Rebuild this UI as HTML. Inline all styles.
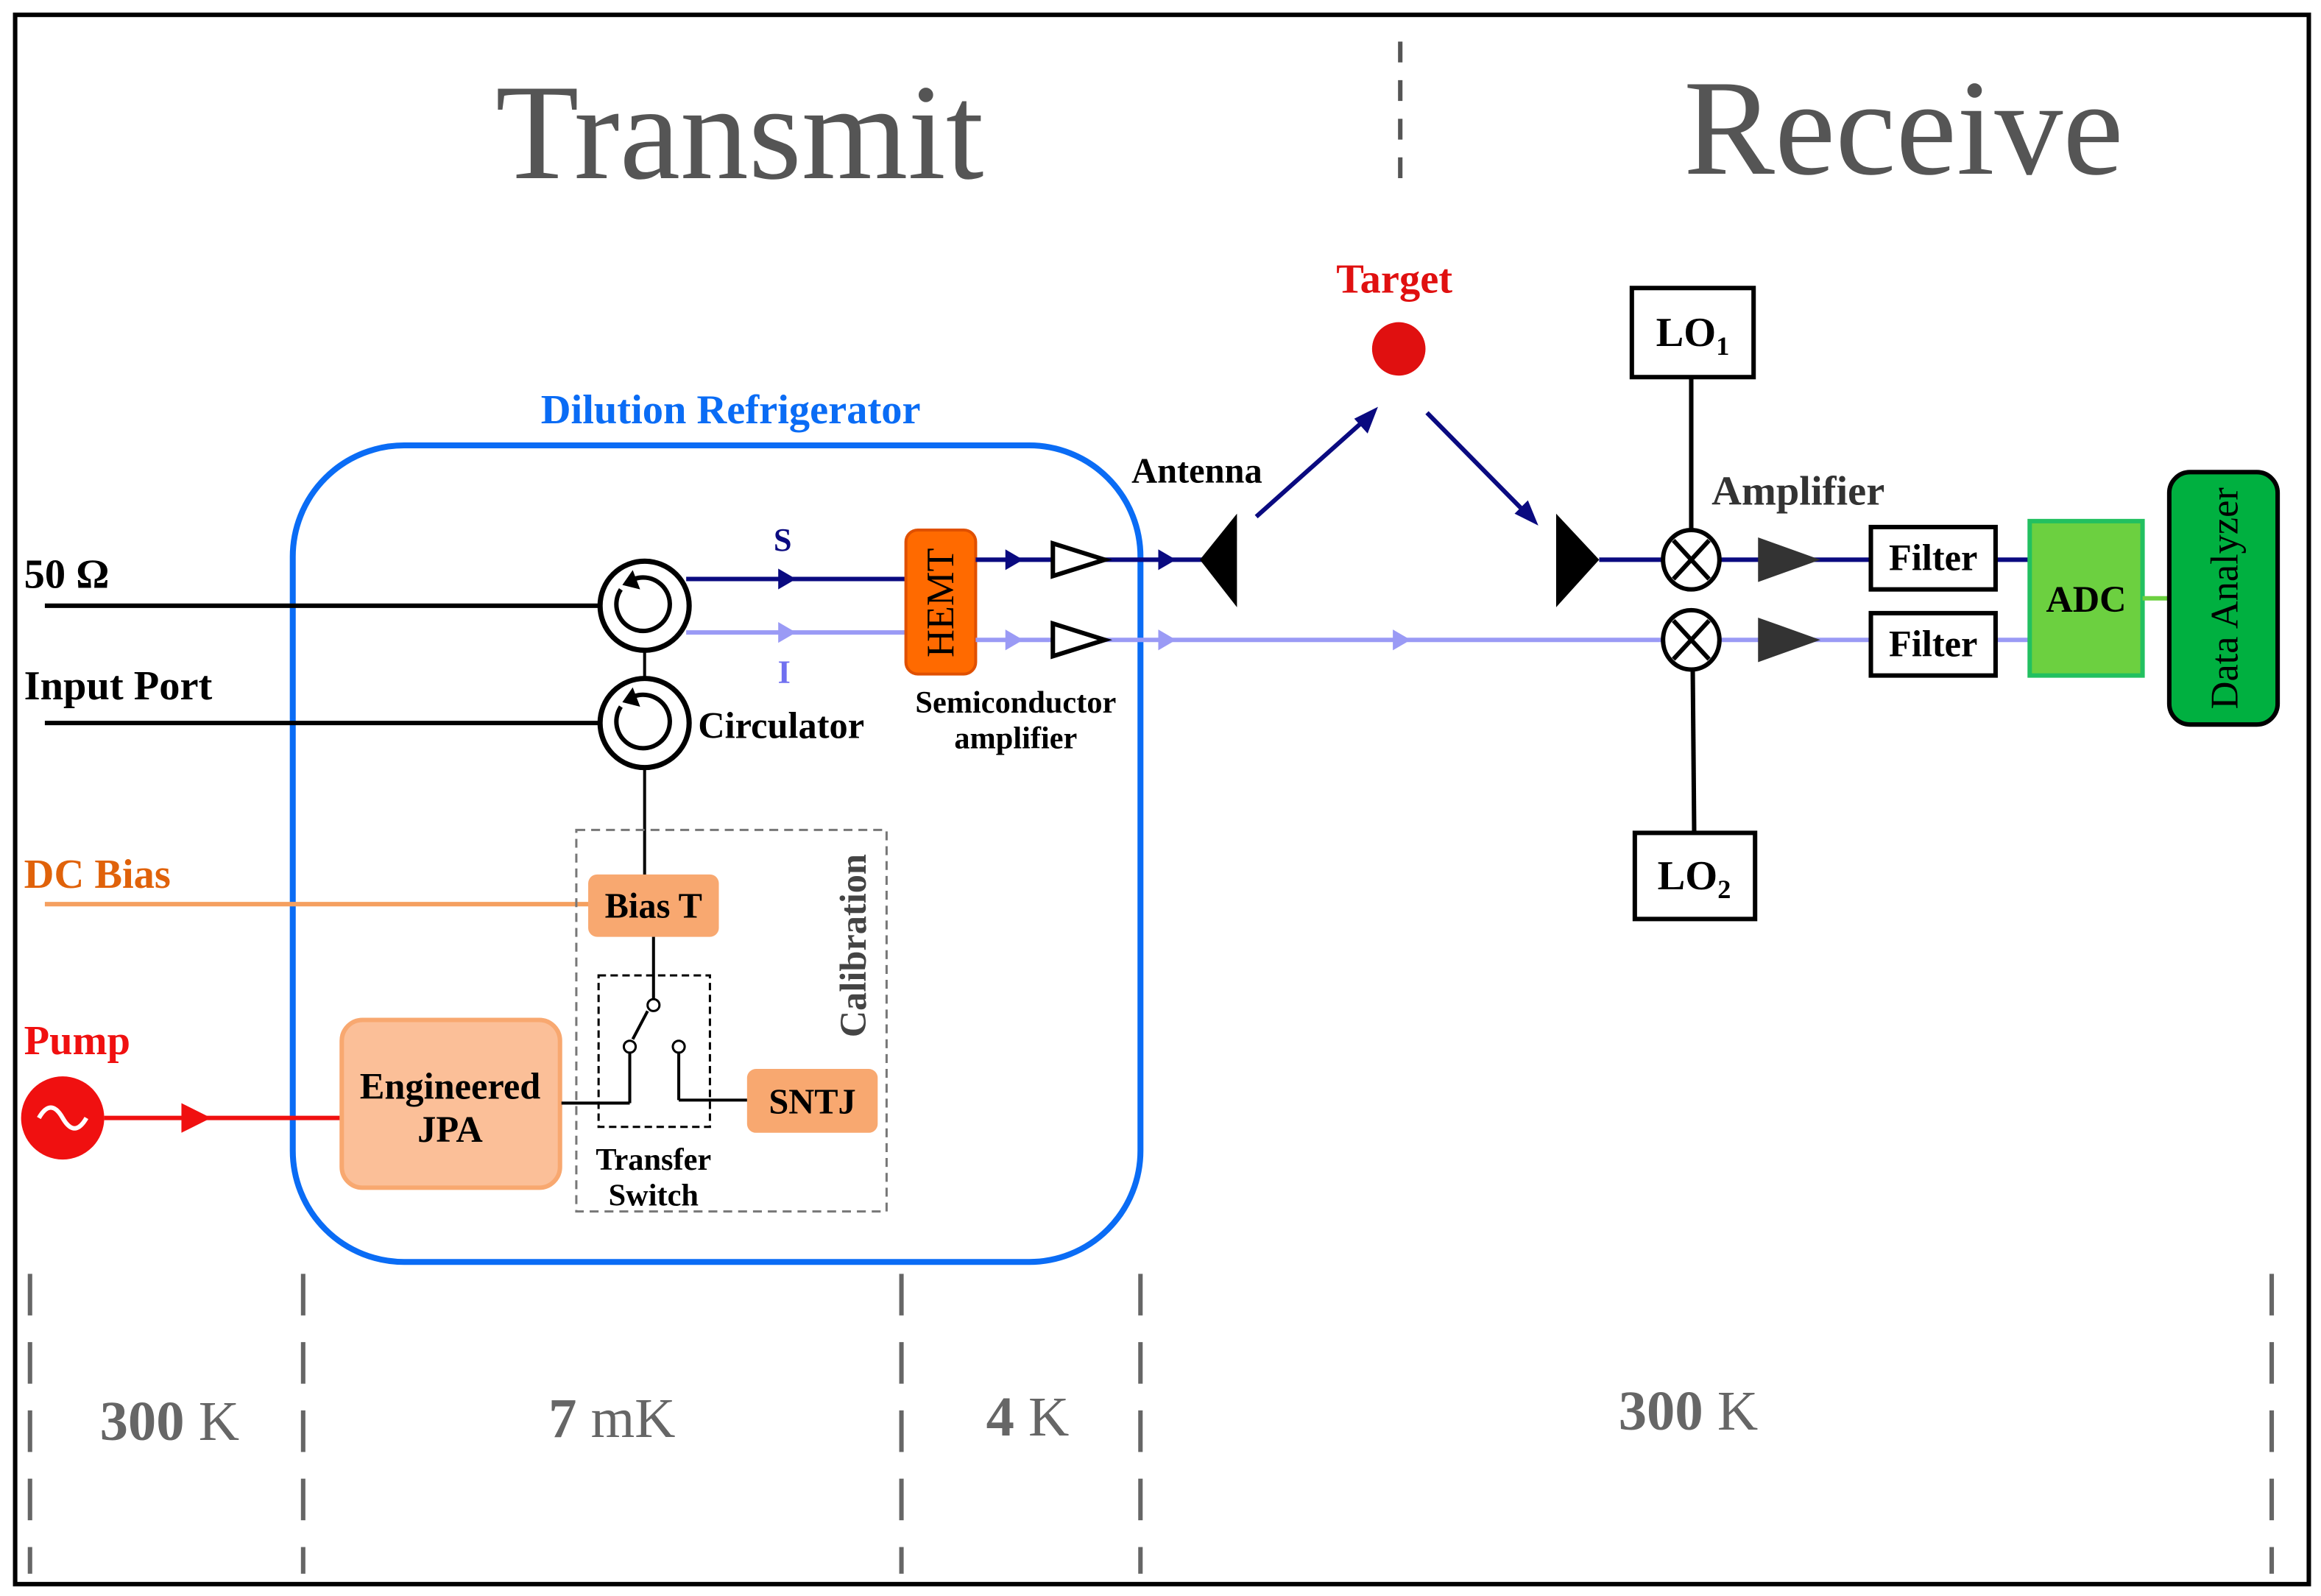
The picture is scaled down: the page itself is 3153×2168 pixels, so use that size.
<!DOCTYPE html>
<html><head><meta charset="utf-8"><style>
html,body{margin:0;padding:0;background:#fff}
svg{display:block}
text{font-family:"Liberation Serif",serif;font-weight:bold}
.n{font-weight:normal}
</style></head><body>
<svg width="3153" height="2168" viewBox="0 0 1563 1075" xmlns="http://www.w3.org/2000/svg">
<rect x="0" y="0" width="1563" height="1075" fill="#fff"/>
<rect x="10" y="10" width="1545" height="1057" fill="none" stroke="#000" stroke-width="3"/>
<!-- titles -->
<text x="498" y="120" font-size="92" fill="#555" class="n" style="font-weight:normal" text-anchor="middle">Transmit</text>
<text x="1282" y="117" font-size="92" fill="#555" class="n" style="font-weight:normal" text-anchor="middle">Receive</text>
<line x1="943" y1="28" x2="943" y2="130" stroke="#555" stroke-width="3" stroke-dasharray="14,12"/>
<!-- temperature dashes -->
<g stroke="#666" stroke-width="3" stroke-dasharray="28,18">
<line x1="20" y1="858" x2="20" y2="1060"/>
<line x1="204" y1="858" x2="204" y2="1060"/>
<line x1="607" y1="858" x2="607" y2="1060"/>
<line x1="768" y1="858" x2="768" y2="1060"/>
<line x1="1530" y1="858" x2="1530" y2="1060"/>
</g>
<g font-size="38" fill="#666">
<text x="114" y="970" text-anchor="middle">300 <tspan style="font-weight:normal">K</tspan></text>
<text x="412" y="968" text-anchor="middle">7 <tspan style="font-weight:normal">mK</tspan></text>
<text x="692" y="967" text-anchor="middle">4 <tspan style="font-weight:normal">K</tspan></text>
<text x="1137" y="963" text-anchor="middle">300 <tspan style="font-weight:normal">K</tspan></text>
</g>
<!-- dilution refrigerator -->
<rect x="197" y="300" width="571" height="550" rx="75" fill="none" stroke="#0a6cf5" stroke-width="4"/>
<text x="492" y="285" font-size="28" fill="#0a6cf5" text-anchor="middle">Dilution Refrigerator</text>
<!-- left labels -->
<text x="16" y="396" font-size="28">50 Ω</text>
<text x="16" y="471" font-size="28">Input Port</text>
<text x="16" y="598" font-size="28" fill="#e0620a">DC Bias</text>
<text x="16" y="710" font-size="28" fill="#f01010">Pump</text>
<line x1="30" y1="408" x2="404" y2="408" stroke="#000" stroke-width="3"/>
<line x1="30" y1="487" x2="404" y2="487" stroke="#000" stroke-width="3"/>
<line x1="30" y1="609" x2="398" y2="609" stroke="#f5a060" stroke-width="3"/>
<!-- pump -->
<circle cx="42" cy="753" r="28" fill="#f01010"/>
<path d="M26 753 q8 -14 16 0 t16 0" fill="none" stroke="#fff" stroke-width="3"/>
<line x1="70" y1="753" x2="232" y2="753" stroke="#f01010" stroke-width="3"/>
<polygon points="122,743 142,753 122,763" fill="#f01010"/>
<!-- circulators -->
<line x1="434" y1="438" x2="434" y2="457" stroke="#000" stroke-width="2"/>
<line x1="434" y1="517" x2="434" y2="592" stroke="#000" stroke-width="2"/>
<g fill="none" stroke="#000">
<circle cx="434" cy="408" r="30" stroke-width="3.5"/>
<path d="M418 397 A18 18 0 1 0 427 390" stroke-width="3"/>
<circle cx="434" cy="487" r="30" stroke-width="3.5"/>
<path d="M418 476 A18 18 0 1 0 427 469" stroke-width="3"/>
</g>
<polygon points="426,384 431,397 419,394" fill="#000"/>
<polygon points="426,463 431,476 419,473" fill="#000"/>
<text x="470" y="497" font-size="25">Circulator</text>
<!-- S and I lines -->
<line x1="462" y1="390" x2="610" y2="390" stroke="#0a0a80" stroke-width="3"/>
<line x1="462" y1="426" x2="610" y2="426" stroke="#9a9af5" stroke-width="3"/>
<polygon points="524,383 536,390 524,397" fill="#0a0a80"/>
<polygon points="524,419 536,426 524,433" fill="#9a9af5"/>
<text x="527" y="371" font-size="22" fill="#0a0a80" text-anchor="middle">S</text>
<text x="528" y="460" font-size="22" fill="#7070f0" text-anchor="middle">I</text>
<rect x="610" y="357" width="47" height="97" rx="8" fill="#ff6a00" stroke="#e05000" stroke-width="2"/>
<text x="0" y="0" font-size="26" style="font-weight:normal" transform="translate(642,406) rotate(-90)" text-anchor="middle">HEMT</text>
<text x="684" y="480" font-size="21" text-anchor="middle">Semiconductor</text>
<text x="684" y="504" font-size="21" text-anchor="middle">amplifier</text>
<line x1="657" y1="377" x2="810" y2="377" stroke="#0a0a80" stroke-width="3"/>
<line x1="657" y1="431" x2="1120" y2="431" stroke="#9a9af5" stroke-width="3"/>
<polygon points="677,370 689,377 677,384" fill="#0a0a80"/>
<polygon points="780,370 792,377 780,384" fill="#0a0a80"/>
<polygon points="677,424 689,431 677,438" fill="#9a9af5"/>
<polygon points="780,424 792,431 780,438" fill="#9a9af5"/>
<polygon points="938,424 950,431 938,438" fill="#9a9af5"/>
<polygon points="709,366 744,377 709,388" fill="#fff" stroke="#000" stroke-width="3"/>
<polygon points="709,420 744,431 709,442" fill="#fff" stroke="#000" stroke-width="3"/>
<!-- antennas -->
<polygon points="808,377 833,346 833,409" fill="#000"/>
<text x="806" y="325" font-size="24" text-anchor="middle">Antenna</text>
<polygon points="1077,377 1048,346 1048,409" fill="#000"/>
<!-- target -->
<text x="939" y="197" font-size="28" fill="#e01010" text-anchor="middle">Target</text>
<circle cx="942" cy="235" r="18" fill="#e01010"/>
<line x1="846" y1="348" x2="920" y2="282" stroke="#0a0a80" stroke-width="3"/>
<polygon points="928,274 912,282 921,292" fill="#0a0a80"/>
<line x1="961" y1="278" x2="1028" y2="346" stroke="#0a0a80" stroke-width="3"/>
<polygon points="1036,354 1020,346 1029,337" fill="#0a0a80"/>
<!-- receive chain -->
<line x1="1077" y1="377" x2="1260" y2="377" stroke="#0a0a80" stroke-width="3"/>
<line x1="1120" y1="431" x2="1260" y2="431" stroke="#9a9af5" stroke-width="3"/>
<line x1="1345" y1="377" x2="1367" y2="377" stroke="#0a0a80" stroke-width="3"/>
<line x1="1345" y1="431" x2="1367" y2="431" stroke="#9a9af5" stroke-width="3"/>
<line x1="1139" y1="254" x2="1139" y2="358" stroke="#000" stroke-width="3"/>
<line x1="1140" y1="450" x2="1141" y2="562" stroke="#000" stroke-width="3"/>
<g fill="#fff" stroke="#000" stroke-width="3">
<ellipse cx="1139" cy="377" rx="19" ry="20"/>
<ellipse cx="1139" cy="431" rx="19" ry="20"/>
</g>
<g stroke="#000" stroke-width="3">
<line x1="1127" y1="364" x2="1151" y2="390"/><line x1="1151" y1="364" x2="1127" y2="390"/>
<line x1="1127" y1="418" x2="1151" y2="444"/><line x1="1151" y1="418" x2="1127" y2="444"/>
</g>
<polygon points="1184,362 1226,377 1184,392" fill="#333"/>
<polygon points="1184,416 1226,431 1184,446" fill="#333"/>
<text x="1211" y="340" font-size="28" fill="#333" text-anchor="middle">Amplifier</text>
<rect x="1099" y="194" width="82" height="60" fill="#fff" stroke="#000" stroke-width="3"/>
<text x="1140" y="233" font-size="28" text-anchor="middle">LO<tspan font-size="18" dy="6">1</tspan></text>
<rect x="1101" y="561" width="81" height="58" fill="#fff" stroke="#000" stroke-width="3"/>
<text x="1141" y="599" font-size="28" text-anchor="middle">LO<tspan font-size="18" dy="6">2</tspan></text>
<rect x="1260" y="355" width="84" height="42" fill="#fff" stroke="#000" stroke-width="3"/>
<text x="1302" y="384" font-size="25" text-anchor="middle">Filter</text>
<rect x="1260" y="413" width="84" height="42" fill="#fff" stroke="#000" stroke-width="3"/>
<text x="1302" y="442" font-size="25" text-anchor="middle">Filter</text>
<rect x="1367" y="351" width="76" height="104" fill="#6cd040" stroke="#22c060" stroke-width="3"/>
<text x="1405" y="412" font-size="25" text-anchor="middle">ADC</text>
<line x1="1443" y1="403" x2="1462" y2="403" stroke="#6cd040" stroke-width="3"/>
<rect x="1461" y="318" width="73" height="170" rx="14" fill="#00b040" stroke="#000" stroke-width="3"/>
<text x="0" y="0" font-size="26" style="font-weight:normal" transform="translate(1507,403) rotate(-90)" text-anchor="middle">Data Analyzer</text>
<!-- calibration -->
<rect x="388" y="559" width="209" height="257" fill="none" stroke="#777" stroke-width="1.5" stroke-dasharray="6,4"/>
<text x="0" y="0" font-size="25" fill="#444" transform="translate(583,637) rotate(-90)" text-anchor="middle">Calibration</text>
<rect x="396" y="589" width="88" height="42" rx="6" fill="#f8a870"/>
<text x="440" y="618" font-size="24" text-anchor="middle">Bias T</text>
<rect x="230" y="687" width="147" height="113" rx="14" fill="#fbbf98" stroke="#f8a870" stroke-width="3"/>
<text x="303" y="740" font-size="25" text-anchor="middle">Engineered</text>
<text x="303" y="769" font-size="25" text-anchor="middle">JPA</text>
<rect x="503" y="720" width="88" height="43" rx="6" fill="#f8a870"/>
<text x="547" y="750" font-size="24" text-anchor="middle">SNTJ</text>
<rect x="403" y="657" width="75" height="102" fill="none" stroke="#000" stroke-width="1.5" stroke-dasharray="5,3"/>
<g stroke="#000" stroke-width="2" fill="none">
<line x1="440" y1="631" x2="440" y2="673"/>
<line x1="436" y1="681" x2="426" y2="700"/>
<line x1="424" y1="709" x2="424" y2="743"/>
<line x1="378" y1="743" x2="424" y2="743"/>
<line x1="457" y1="709" x2="457" y2="741"/>
<line x1="457" y1="741" x2="503" y2="741"/>
</g>
<g fill="#fff" stroke="#000" stroke-width="1.5">
<circle cx="440" cy="677" r="4"/><circle cx="424" cy="705" r="4"/><circle cx="457" cy="705" r="4"/>
</g>
<text x="440" y="788" font-size="21" text-anchor="middle">Transfer</text>
<text x="440" y="812" font-size="21" text-anchor="middle">Switch</text>
</svg>
</body></html>
